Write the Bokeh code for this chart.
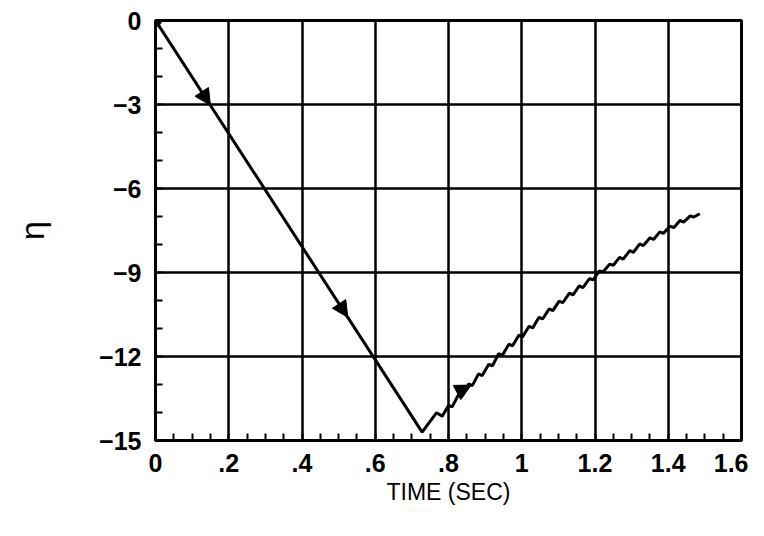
import numpy as np
from bokeh.plotting import figure
from bokeh.models import FixedTicker, Range1d, Arrow, NormalHead
from bokeh.embed import file_html
from bokeh.resources import INLINE

# --- data ---
t = [0.0, 0.728, 0.767, 0.783,
     0.800, 0.810, 0.828, 0.838, 0.855, 0.865, 0.882, 0.892, 0.910, 0.920,
     0.937, 0.947, 0.965, 0.975, 0.992, 1.002, 1.020, 1.030, 1.047, 1.057,
     1.075, 1.085, 1.102, 1.112, 1.130, 1.140, 1.157, 1.167, 1.185, 1.195,
     1.212, 1.222, 1.240, 1.250, 1.267, 1.277, 1.295, 1.305, 1.322, 1.332,
     1.350, 1.360, 1.377, 1.387, 1.405, 1.415, 1.432, 1.442, 1.460, 1.470,
     1.486]
eta = [0.0, -14.70, -14.01, -14.13,
       -13.75, -13.80, -13.35, -13.40, -12.98, -13.04, -12.62, -12.68, -12.28, -12.33,
       -11.90, -11.96, -11.56, -11.62, -11.24, -11.30, -10.92, -10.98, -10.60, -10.66,
       -10.30, -10.36, -10.02, -10.08, -9.74, -9.80, -9.48, -9.54, -9.22, -9.26,
       -8.94, -8.98, -8.70, -8.74, -8.46, -8.52, -8.22, -8.28, -7.98, -8.04,
       -7.76, -7.82, -7.55, -7.60, -7.34, -7.40, -7.14, -7.20, -6.98, -7.02,
       -6.90]
arrow_t = [0.15, 0.525, 0.862]
x_ticks = [0, 0.2, 0.4, 0.6, 0.8, 1.0, 1.2, 1.4, 1.6]
x_tick_labels = ["0", ".2", ".4", ".6", ".8", "1", "1.2", "1.4", "1.6"]
y_ticks = [0, -3, -6, -9, -12, -15]
y_tick_labels = ["0", "\u22123", "\u22126", "\u22129", "\u221212", "\u221215"]

FONT = "Liberation Sans"

p = figure(width=748, height=520, output_backend="svg", toolbar_location=None,
           x_range=Range1d(0, 1.6), y_range=Range1d(-15, 0),
           min_border_left=155, min_border_top=20, min_border_right=7,
           min_border_bottom=80)
p.outline_line_color = "black"
p.outline_line_width = 3

x_minor = list(np.linspace(x_ticks[0], x_ticks[-1], 4 * (len(x_ticks) - 1) + 1))
y_minor = list(np.linspace(y_ticks[-1], y_ticks[0], 3 * (len(y_ticks) - 1) + 1))
p.xaxis.ticker = FixedTicker(ticks=x_ticks, minor_ticks=x_minor)
p.yaxis.ticker = FixedTicker(ticks=y_ticks, minor_ticks=y_minor)

for ax in (p.xaxis, p.yaxis):
    ax.axis_line_width = 3
    ax.axis_line_color = "black"
    ax.major_tick_in = 0
    ax.major_tick_out = 0
    ax.minor_tick_in = 7
    ax.minor_tick_out = 0
    ax.minor_tick_line_width = 2
    ax.minor_tick_line_color = "black"
    ax.major_label_text_font = FONT
    ax.major_label_text_font_size = "25px"
    ax.major_label_text_font_style = "bold"
    ax.major_label_text_color = "black"
    ax.axis_label_text_font = FONT
    ax.axis_label_text_font_style = "normal"
    ax.axis_label_text_color = "black"

p.xaxis.major_label_overrides = {v: s for v, s in zip(x_ticks, x_tick_labels)}
p.yaxis.major_label_overrides = {v: s for v, s in zip(y_ticks, y_tick_labels)}
p.xaxis.major_label_standoff = 13
p.yaxis.major_label_standoff = 14
p.xaxis.axis_label = "TIME (SEC)"
p.xaxis.axis_label_text_font_size = "23px"
p.xaxis.axis_label_standoff = 4
p.yaxis.axis_label = "\u03b7"
p.yaxis.axis_label_text_font_size = "34px"
p.yaxis.axis_label_standoff = 45

for g in (p.xgrid, p.ygrid):
    g.grid_line_color = "black"
    g.grid_line_width = 2.5
    g.grid_line_alpha = 1.0

p.line(t, eta, line_color="black", line_width=3)
p.scatter([t[0]], [eta[0]], size=12, color="black")

# arrows along the curve
tt = np.array(t)
ee = np.array(eta)
for at in arrow_t:
    y0 = np.interp(at - 0.012, tt, ee)
    y1 = np.interp(at, tt, ee)
    p.add_layout(Arrow(end=NormalHead(size=16, fill_color="black", line_color="black"),
                       x_start=at - 0.012, y_start=y0, x_end=at, y_end=y1,
                       line_color="black", line_width=2))

open("out.html", "w").write(file_html(p, INLINE))
